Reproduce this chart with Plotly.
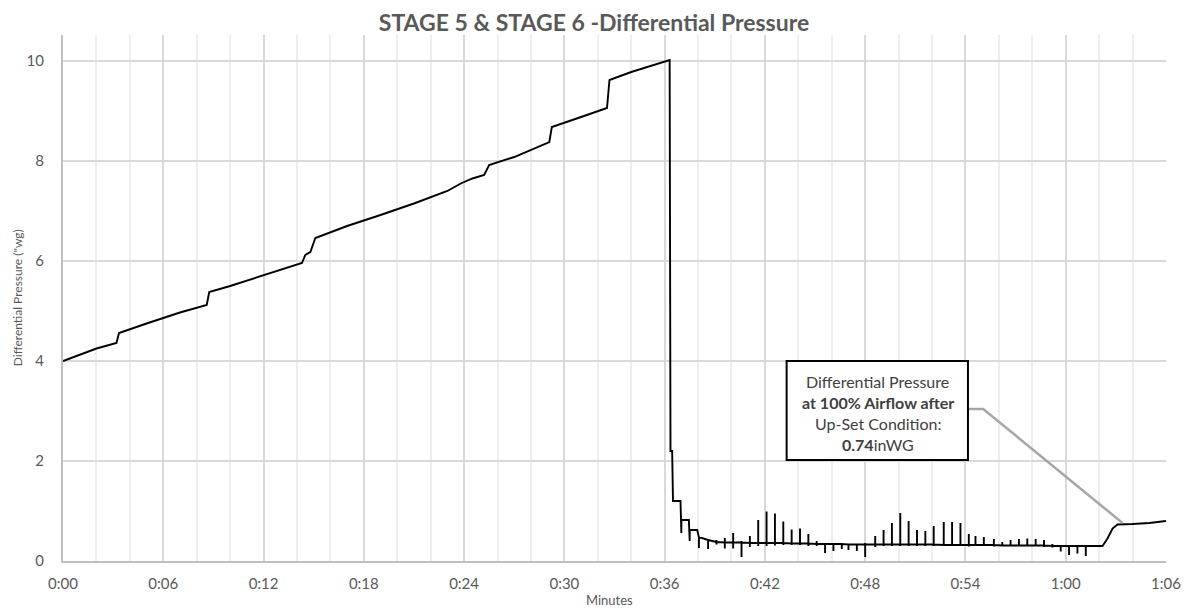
import plotly.graph_objects as go

# ---------------- data (minutes, "wg) ----------------
ramp_t = [0.0, 1.0, 2.0, 3.2, 3.35, 5.0, 7.0, 8.6, 8.75, 10.0, 12.0, 14.3, 14.5, 14.8, 15.1,
          17.0, 19.0, 21.0, 23.0, 23.8, 24.5, 25.2, 25.5, 27.0, 29.1, 29.25, 31.0, 32.55,
          32.7, 34.0, 36.3]
ramp_v = [4.00, 4.13, 4.25, 4.36, 4.56, 4.75, 4.97, 5.12, 5.38, 5.50, 5.72, 5.96, 6.12, 6.18, 6.46,
          6.70, 6.92, 7.15, 7.40, 7.55, 7.65, 7.72, 7.92, 8.08, 8.38, 8.68, 8.88, 9.06,
          9.62, 9.78, 10.02]

drop_t = [36.35, 36.45, 36.5, 36.95, 37.0, 37.0, 37.45, 37.5, 37.5, 37.95]
drop_v = [2.20, 2.20, 1.20, 1.20, 0.56, 0.82, 0.82, 0.40, 0.62, 0.62]

spike_t = [38.05, 38.6, 39.1, 39.6, 40.1, 40.6, 41.1, 41.6, 42.1, 42.6, 43.1, 43.6, 44.1, 44.6,
           45.1, 45.6, 46.1, 46.6, 47.0, 47.5, 48.0, 48.6, 49.1, 49.6, 50.1, 50.6, 51.1, 51.6,
           52.1, 52.7, 53.2, 53.7, 54.2, 54.6, 55.1, 55.7, 56.2, 56.7, 57.2, 57.7, 58.2, 58.7,
           59.2, 59.7, 60.2, 60.7, 61.2]
spike_base = [0.48, 0.42, 0.38, 0.37, 0.37, 0.37, 0.36, 0.36, 0.36, 0.36, 0.36, 0.35, 0.35, 0.35,
              0.34, 0.34, 0.34, 0.34, 0.33, 0.33, 0.33, 0.33, 0.33, 0.33, 0.33, 0.33, 0.33, 0.33,
              0.33, 0.32, 0.32, 0.32, 0.32, 0.32, 0.32, 0.32, 0.31, 0.31, 0.31, 0.31, 0.31, 0.31,
              0.30, 0.30, 0.30, 0.30, 0.30]
spike_hi = [0.48, 0.42, 0.42, 0.46, 0.56, 0.40, 0.50, 0.82, 0.99, 0.95, 0.79, 0.63, 0.65, 0.54,
            0.40, 0.36, 0.36, 0.36, 0.35, 0.35, 0.36, 0.50, 0.62, 0.76, 0.96, 0.80, 0.62, 0.60,
            0.70, 0.78, 0.78, 0.76, 0.54, 0.50, 0.48, 0.44, 0.38, 0.42, 0.44, 0.45, 0.44, 0.42,
            0.34, 0.31, 0.31, 0.31, 0.31]
spike_lo = [0.26, 0.24, 0.33, 0.25, 0.25, 0.08, 0.28, 0.30, 0.30, 0.31, 0.32, 0.32, 0.32, 0.30,
            0.30, 0.16, 0.20, 0.24, 0.22, 0.20, 0.08, 0.28, 0.30, 0.30, 0.30, 0.30, 0.30, 0.30,
            0.30, 0.30, 0.30, 0.30, 0.29, 0.30, 0.30, 0.29, 0.30, 0.29, 0.29, 0.29, 0.29, 0.28,
            0.27, 0.19, 0.12, 0.15, 0.10]

tail_t = [62.2, 62.5, 62.8, 63.1, 64.0, 65.0, 66.0]
tail_v = [0.30, 0.45, 0.65, 0.73, 0.74, 0.76, 0.80]

x_tick_vals = [0, 6, 12, 18, 24, 30, 36, 42, 48, 54, 60, 66]
x_tick_labels = ["0:00", "0:06", "0:12", "0:18", "0:24", "0:30", "0:36", "0:42",
                 "0:48", "0:54", "1:00", "1:06"]
y_tick_vals = [0, 2, 4, 6, 8, 10]

# ---------------- build the series ----------------
xs = list(ramp_t) + list(drop_t)
ys = list(ramp_v) + list(drop_v)
for t, b, h, l in zip(spike_t, spike_base, spike_hi, spike_lo):
    xs += [t, t, t, t]
    ys += [b, h, l, b]
xs += tail_t
ys += tail_v

FONT = "Lato"
GREY = "#595959"

fig = go.Figure()
fig.add_trace(go.Scatter(x=xs, y=ys, mode="lines",
                         line=dict(color="black", width=1.9),
                         hoverinfo="skip", showlegend=False))

minor_vals = [v for v in range(0, 67, 2) if v % 6 != 0]

# page body has an 8px margin: figure origin sits at (8, 8) in the window
W, H = 1185, 609
fig.update_layout(
    width=W, height=H, autosize=False,
    margin=dict(l=55, r=21, t=27, b=56, pad=0),
    paper_bgcolor="white", plot_bgcolor="white",
    font=dict(family=FONT, color=GREY, size=14),
    title=dict(text="<b>STAGE 5 &amp; STAGE 6 -Differential Pressure</b>",
               x=586 / W, xref="container", xanchor="center",
               y=1 - 15 / H, yref="container", yanchor="middle",
               font=dict(family=FONT, size=23, color=GREY)),
    xaxis=dict(range=[0, 66], tickmode="array", tickvals=x_tick_vals, ticktext=x_tick_labels,
               showgrid=True, gridcolor="#D9D9D9", gridwidth=2,
               minor=dict(tickmode="array", tickvals=minor_vals, showgrid=True,
                          gridcolor="#EEEEEE", gridwidth=2),
               showline=True, linecolor="#BFBFBF", linewidth=2,
               ticks="outside", ticklen=8, tickcolor="rgba(0,0,0,0)",
               tickfont=dict(family=FONT, size=15, color=GREY),
               zeroline=False, fixedrange=True),
    yaxis=dict(range=[0, 10.52], tickmode="array", tickvals=y_tick_vals,
               showgrid=True, gridcolor="#D9D9D9", gridwidth=2,
               showline=True, linecolor="#BFBFBF", linewidth=2,
               ticks="outside", ticklen=14, tickcolor="rgba(0,0,0,0)",
               tickfont=dict(family=FONT, size=15, color=GREY),
               zeroline=False, fixedrange=True),
)

# axis titles
fig.add_annotation(text="Minutes", xref="paper", yref="paper",
                   x=(612 - 63) / 1109, y=(561 - 600) / 526, showarrow=False,
                   xanchor="center", yanchor="middle",
                   font=dict(family=FONT, size=13, color=GREY))
fig.add_annotation(text="Differential Pressure (\"wg)", xref="paper", yref="paper",
                   x=(17 - 63) / 1109, y=0.5, showarrow=False, textangle=-90,
                   xanchor="center", yanchor="middle",
                   font=dict(family=FONT, size=12, color=GREY))

# callout box and leader line
fig.add_shape(type="path", path="M 54.17,3.04 L 55.06,3.04 L 63.4,0.76",
              xref="x", yref="y", line=dict(color="#A6A6A6", width=2.5), layer="above")
fig.add_shape(type="rect", x0=43.3, x1=54.15, y0=2.02, y1=4.0, xref="x", yref="y",
              fillcolor="white", line=dict(color="black", width=2), layer="above")

box_lines = ["Differential Pressure", "<b>at 100% Airflow after</b>",
             "Up-Set Condition:", "<b>0.74</b>inWG"]
box_y = [3.60, 3.18, 2.76, 2.34]
for txt, yy in zip(box_lines, box_y):
    fig.add_annotation(text=txt, x=48.75, y=yy, xref="x", yref="y", showarrow=False,
                       xanchor="center", yanchor="middle",
                       font=dict(family=FONT, size=16, color="#404040"))

fig.write_html("out.html")
